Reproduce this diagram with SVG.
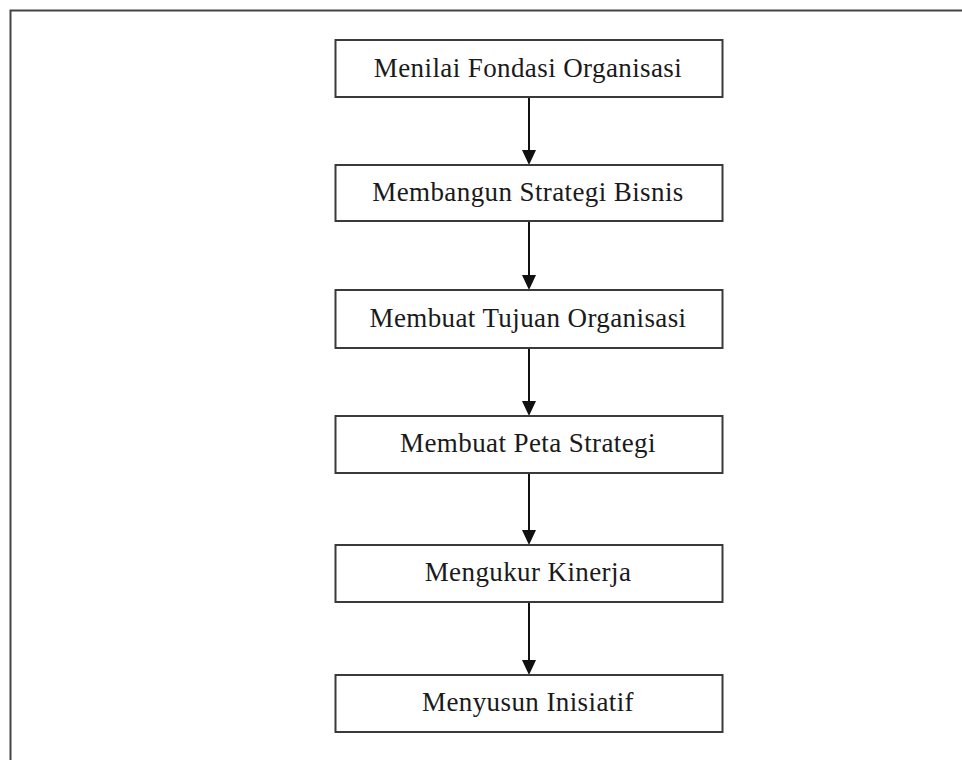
<svg xmlns="http://www.w3.org/2000/svg" width="962" height="760" viewBox="0 0 962 760">
<style>
.box{fill:#fff;stroke:#3a3a3a;stroke-width:2}
.lbl{font-family:"Liberation Serif","Times New Roman",serif;font-size:27px;letter-spacing:0.4px;fill:#1a1a1a;text-anchor:middle}
.con{stroke:#111;stroke-width:2;fill:none}
.head{fill:#111}
</style>
<rect x="10.5" y="10.5" width="1000" height="800" fill="#fff" stroke="#444" stroke-width="2"/>
<g id="connectors">
<line class="con" x1="529" y1="97" x2="529" y2="151"/>
<path class="head" d="M522,150 L536,150 L529,165 Z"/>
<line class="con" x1="529" y1="221" x2="529" y2="276"/>
<path class="head" d="M522,275 L536,275 L529,290 Z"/>
<line class="con" x1="529" y1="348" x2="529" y2="402"/>
<path class="head" d="M522,401 L536,401 L529,416 Z"/>
<line class="con" x1="529" y1="473" x2="529" y2="531"/>
<path class="head" d="M522,530 L536,530 L529,545 Z"/>
<line class="con" x1="529" y1="602" x2="529" y2="661"/>
<path class="head" d="M522,660 L536,660 L529,675 Z"/>
</g>
<g id="n1"><rect class="box" x="335.5" y="40" width="387" height="57"/><text class="lbl" x="528" y="77">Menilai Fondasi Organisasi</text></g>
<g id="n2"><rect class="box" x="335.5" y="165" width="387" height="56"/><text class="lbl" x="528" y="201">Membangun Strategi Bisnis</text></g>
<g id="n3"><rect class="box" x="335.5" y="290" width="387" height="58"/><text class="lbl" x="528" y="327">Membuat Tujuan Organisasi</text></g>
<g id="n4"><rect class="box" x="335.5" y="416" width="387" height="57"/><text class="lbl" x="528" y="452">Membuat Peta Strategi</text></g>
<g id="n5"><rect class="box" x="335.5" y="545" width="387" height="57"/><text class="lbl" x="528" y="581">Mengukur Kinerja</text></g>
<g id="n6"><rect class="box" x="335.5" y="675" width="387" height="57"/><text class="lbl" x="528" y="711">Menyusun Inisiatif</text></g>
</svg>
